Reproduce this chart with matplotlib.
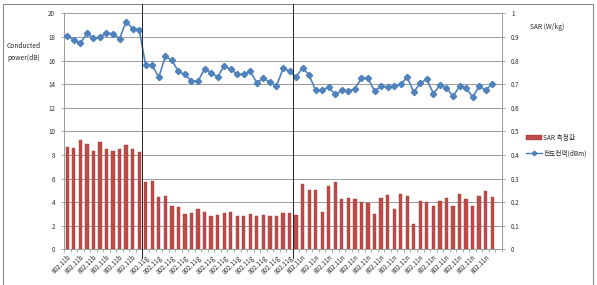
import matplotlib
matplotlib.use("Agg")
import matplotlib.pyplot as plt
from matplotlib.patches import Rectangle, Patch
from matplotlib.lines import Line2D
import numpy as np

plt.rcParams['font.family'] = ['Noto Sans CJK KR', 'DejaVu Sans']

# ---- data ----
modes = ['802.11b'] * 12 + ['802.11g'] * 23 + ['802.11n'] * 31

power_dbm = [
    18.10, 17.73, 17.45, 18.30, 17.90, 17.96, 18.36, 18.24, 17.85, 19.29, 18.70, 18.61,
    15.58, 15.58, 14.59, 16.35, 16.03, 15.07, 14.82, 14.28, 14.25, 15.27, 14.93, 14.62,
    15.52, 15.27, 14.82, 14.84, 15.07, 14.11, 14.50, 14.16, 13.82, 15.33, 15.10,
    14.62, 15.38, 14.76, 13.46, 13.52, 13.72, 13.13, 13.46, 13.41, 13.61, 14.51, 14.51,
    13.41, 13.80, 13.75, 13.80, 13.97, 14.60, 13.30, 14.10, 14.40, 13.20, 13.90, 13.70,
    12.95, 13.80, 13.70, 12.90, 13.80, 13.50, 14.00,
]

sar_wkg = [
    0.434, 0.428, 0.463, 0.446, 0.415, 0.453, 0.425, 0.418, 0.425, 0.440, 0.425, 0.414,
    0.284, 0.291, 0.221, 0.224, 0.183, 0.179, 0.148, 0.155, 0.170, 0.157, 0.141, 0.145,
    0.152, 0.157, 0.143, 0.140, 0.150, 0.143, 0.146, 0.140, 0.140, 0.153, 0.153,
    0.146, 0.277, 0.253, 0.252, 0.160, 0.270, 0.284, 0.214, 0.217, 0.212, 0.200, 0.196,
    0.150, 0.217, 0.231, 0.172, 0.235, 0.227, 0.108, 0.204, 0.200, 0.183, 0.204, 0.217,
    0.183, 0.235, 0.214, 0.183, 0.227, 0.246, 0.221,
]

left_ticks = [0, 2, 4, 6, 8, 10, 12, 14, 16, 18, 20]
right_ticks = [0, 0.1, 0.2, 0.3, 0.4, 0.5, 0.6, 0.7, 0.8, 0.9, 1]
right_tick_labels = ['0', '0.1', '0.2', '0.3', '0.4', '0.5', '0.6', '0.7', '0.8', '0.9', '1']
group_breaks = [11.5, 34.5]

# ---- figure ----
W, H = 597, 285
fig = plt.figure(figsize=(W / 100, H / 100), dpi=100)
fig.patch.set_facecolor('white')

L, R, T, B = 64, 502, 13.3, 249.3
ax = fig.add_axes([L / W, 1 - B / H, (R - L) / W, (B - T) / H])
ax2 = ax.twinx()
ax.set_zorder(2)
ax.patch.set_visible(False)
ax2.set_zorder(1)

x = np.arange(len(modes))
n_slots = len(modes) + 1

grid_c = '#8c8c8c'
txt_c = '#2b2b2b'
# bars (SAR) on right axis
ax2.bar(x, sar_wkg, width=0.5, color='#BE4B48', edgecolor='#A33F3C', linewidth=0.3, zorder=2)
ax2.set_ylim(0, 1)
ax2.set_yticks(right_ticks)
ax2.set_yticklabels(right_tick_labels)

# line (conducted power) on left axis
ax.plot(x, power_dbm, color='#4F81BD', linewidth=1.2, marker='D', markersize=3.2,
        markerfacecolor='#4F81BD', markeredgecolor='#4F81BD', zorder=3)
ax.set_ylim(0, 20)
ax.set_yticks(left_ticks)
ax.set_xlim(-0.5, n_slots - 0.5)

# gridlines drawn on the back axis
for v in left_ticks:
    ax2.axhline(v / 20, color=grid_c, linewidth=0.6, zorder=0)

# x tick labels every other category
ax.set_xticks(x[::2])
ax.set_xticklabels([modes[i] for i in x[::2]], rotation=45, ha='right', va='top',
                   rotation_mode='anchor', fontsize=4.6, color=txt_c)
ax.set_xticks(np.arange(-0.5, n_slots, 1), minor=True)
ax.tick_params(axis='x', which='major', length=0, pad=3)
ax.tick_params(axis='x', which='minor', length=2.5, width=0.5, color=grid_c)
ax2.tick_params(axis='x', length=0)

ax.tick_params(axis='y', labelsize=4.5, length=2.5, width=0.5, color=grid_c, pad=4,
               labelcolor=txt_c)
ax2.tick_params(axis='y', labelsize=4.5, length=2.5, width=0.5, color=grid_c, pad=4,
                labelcolor=txt_c)

for a in (ax, ax2):
    for s in a.spines.values():
        s.set_visible(False)
ax.spines['left'].set_visible(True)
ax.spines['left'].set_color(grid_c)
ax.spines['left'].set_linewidth(0.6)
ax2.spines['right'].set_visible(True)
ax2.spines['right'].set_color(grid_c)
ax2.spines['right'].set_linewidth(0.6)
ax.spines['bottom'].set_visible(True)
ax.spines['bottom'].set_color(grid_c)
ax.spines['bottom'].set_linewidth(0.6)

# group separator lines
ymin = -(258 - B) / (B - T)
ymax = (B - 4) / (B - T)
for gx in group_breaks:
    ax.axvline(gx, ymin=ymin, ymax=ymax, color='#222222', linewidth=0.7, clip_on=False, zorder=4)

# axis titles
fig.text(7 / W, 1 - 52 / H, 'Conducted\npower(dB)', fontsize=4.8, ha='left', va='center',
         color=txt_c, linespacing=1.5)
fig.text(530 / W, 1 - 27 / H, 'SAR (W/kg)', fontsize=4.8, ha='left', va='center', color=txt_c)

# legend
handles = [Patch(facecolor='#BE4B48', edgecolor='#A33F3C', linewidth=0.3),
           Line2D([0], [0], color='#4F81BD', linewidth=1.0, marker='D', markersize=2.4)]
leg = fig.legend(handles, ['SAR 측정값', '전도전력(dBm)'], loc='upper left',
                 bbox_to_anchor=(526 / W, 1 - 134 / H), frameon=False, fontsize=4.8,
                 handlelength=2.4, handleheight=0.7, handletextpad=0.2, labelspacing=1.1,
                 borderpad=0, borderaxespad=0)
for t in leg.get_texts():
    t.set_color(txt_c)

# chart border
fig.add_artist(Rectangle((2.5 / W, -0.02), 590 / W, 1.02 - 4 / H, transform=fig.transFigure,
                         fill=False, edgecolor='#8a8a8a', linewidth=0.8))

fig.savefig('out.png', dpi=100)
